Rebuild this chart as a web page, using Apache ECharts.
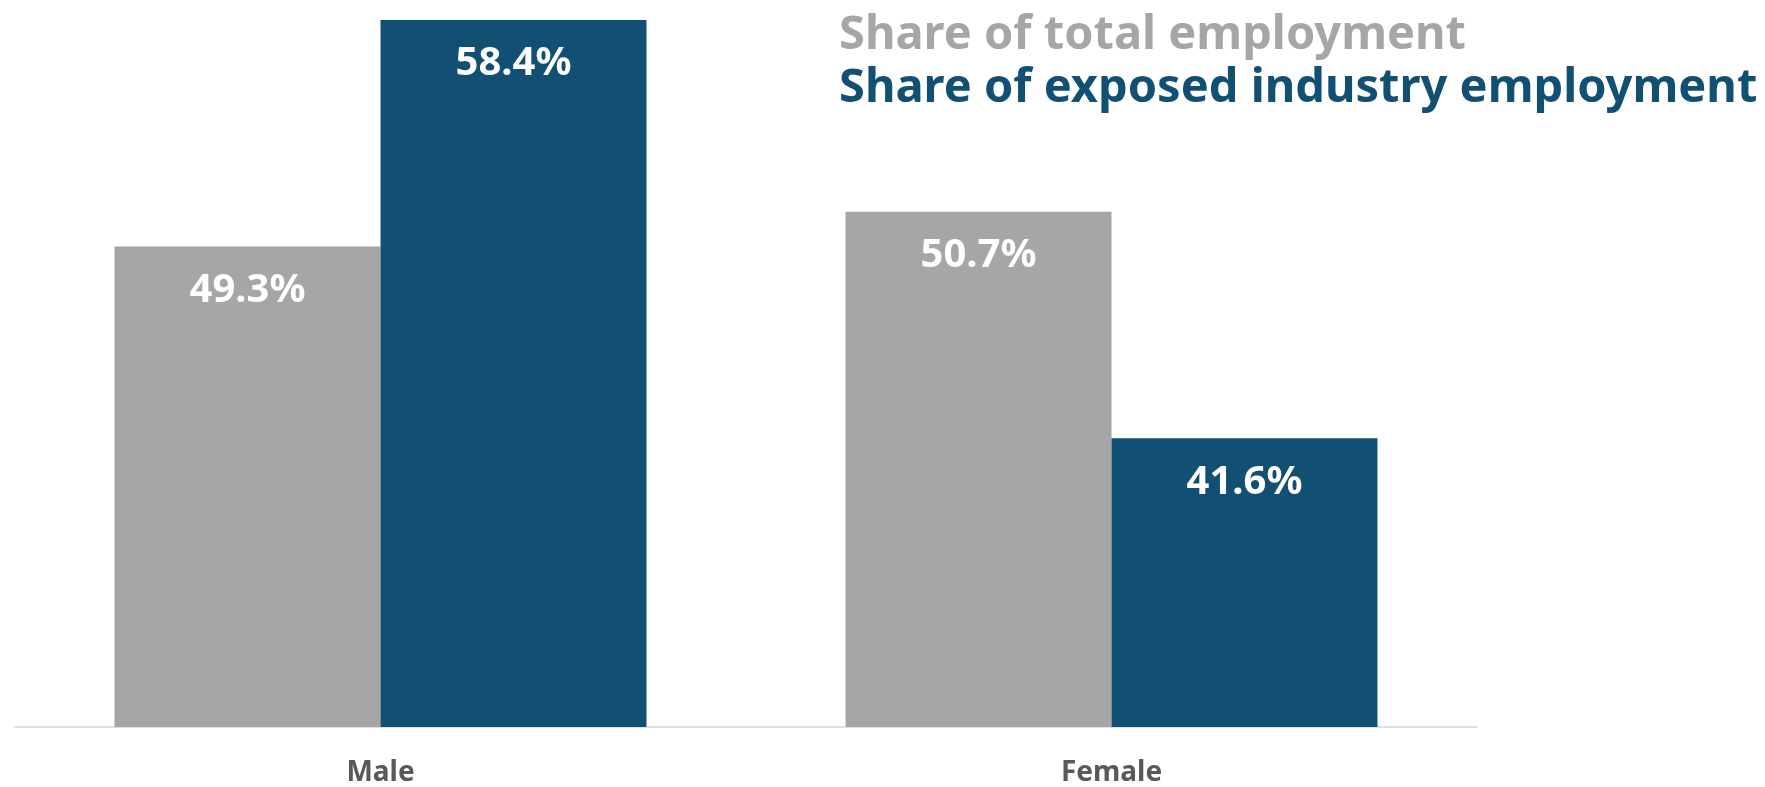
<!DOCTYPE html>
<html>
<head>
<meta charset="utf-8">
<script src="https://cdn.jsdelivr.net/npm/echarts@6/dist/echarts.min.js"></script>
<style>
  html, body { margin: 0; padding: 0; background: #fff; }
  #chart { width: 1765px; height: 787px; }
</style>
</head>
<body>
<div id="chart"></div>
<script>
const categories = ["Male", "Female"];
const totalShare = [49.3, 50.7];
const exposedShare = [58.4, 41.6];
const seriesNames = ["Share of total employment", "Share of exposed industry employment"];

const GRAY = "#A6A6A6";
const BLUE = "#125073";
const FONT = "Noto Sans";

const chart = echarts.init(document.getElementById("chart"));

const barLabel = {
  show: true,
  position: "insideTop",
  distance: 24,
  color: "#fff",
  fontFamily: FONT,
  fontWeight: "bold",
  fontSize: 40,
  formatter: p => p.value.toFixed(1) + "%"
};

chart.setOption({
  animation: false,
  backgroundColor: "#fff",
  grid: { left: 15, right: 288, top: 0, bottom: 56, containLabel: false },
  legend: {
    left: 829,
    top: 7,
    orient: "vertical",
    icon: "none",
    itemWidth: 0,
    itemHeight: 0,
    itemGap: 6,
    selectedMode: false,
    textStyle: { fontFamily: FONT, fontWeight: "bold", fontSize: 47, padding: 0 },
    data: [
      { name: seriesNames[0], textStyle: { color: GRAY } },
      { name: seriesNames[1], textStyle: { color: BLUE } }
    ]
  },
  xAxis: {
    type: "category",
    data: categories,
    axisLine: { show: true, lineStyle: { color: "#DCDFEF", width: 2 } },
    axisTick: { show: false },
    axisLabel: {
      margin: 32,
      color: "#595959",
      fontFamily: FONT,
      fontWeight: "bold",
      fontSize: 28
    }
  },
  yAxis: {
    type: "value",
    min: 30,
    max: 59.2,
    show: false,
    splitLine: { show: false }
  },
  series: [
    {
      name: seriesNames[0],
      type: "bar",
      data: totalShare,
      barWidth: 266,
      barGap: "0%",
      itemStyle: { color: GRAY },
      label: barLabel
    },
    {
      name: seriesNames[1],
      type: "bar",
      data: exposedShare,
      barWidth: 266,
      barGap: "0%",
      itemStyle: { color: BLUE },
      label: barLabel
    }
  ]
});
</script>
</body>
</html>
